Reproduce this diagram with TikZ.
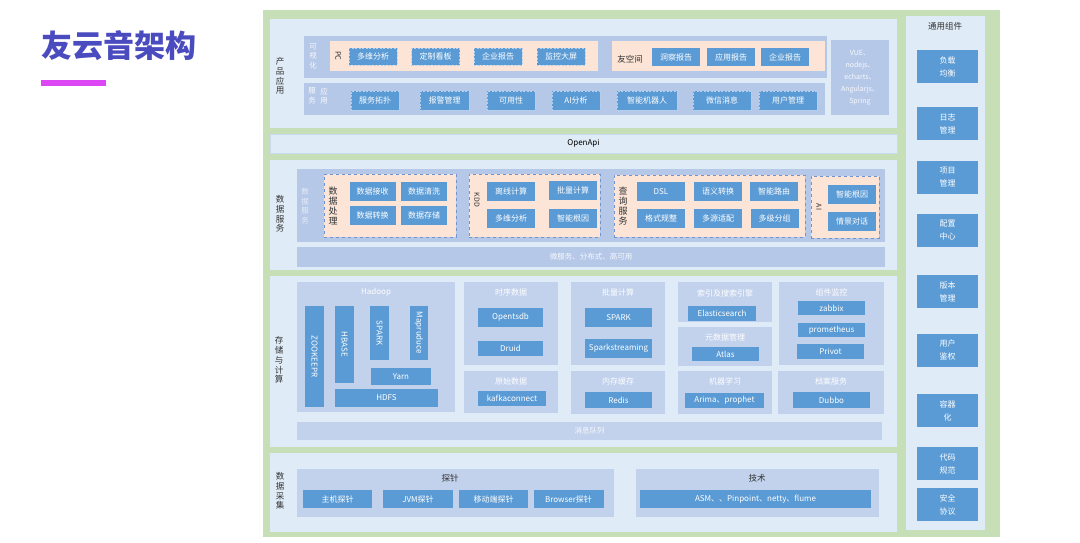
\documentclass[tikz,border=0pt]{standalone}
\usepackage{fontspec}
\setmainfont{Noto Sans CJK SC}
\usepackage{tikz}

\definecolor{bggreen}{HTML}{C6DFB6}
\definecolor{panelblue}{HTML}{DFEBF6}
\definecolor{panelline}{HTML}{C8D8EE}
\definecolor{stripblue}{HTML}{B6C8E8}
\definecolor{boxblue}{HTML}{C2D1EC}
\definecolor{peach}{HTML}{FCE4D6}
\definecolor{dashblue}{HTML}{7193CF}
\definecolor{btnblue}{HTML}{5B9BD5}
\definecolor{titlepurple}{HTML}{4B4BC0}
\definecolor{barmagenta}{HTML}{DC46F5}
\definecolor{labeltext}{HTML}{333333}

\tikzset{
  strip/.style={fill=stripblue, inner sep=0pt},
  subbox/.style={fill=boxblue, inner sep=0pt},
  peachbox/.style={fill=peach, inner sep=0pt},
  dpeach/.style={peachbox, draw=dashblue, dashed},
  btn/.style={fill=btnblue, text=white, inner sep=0pt, minimum height=18pt,
    font=\fontsize{8}{9}\selectfont},
  dbtn/.style={btn, draw=white!55!btnblue, dash pattern=on 2pt off 1.5pt},
  faint/.style={text=white!90!stripblue, inner sep=0pt, align=center,
    font=\fontsize{7.5}{9.5}\selectfont},
  vlabel/.style={text=labeltext, inner sep=0pt, align=center,
    font=\fontsize{8.5}{9.8}\selectfont},
  subtitle/.style={text=white, inner sep=0pt, font=\fontsize{8}{9}\selectfont},
}

\begin{document}
\begin{tikzpicture}[x=1pt, y=-1pt, font=\fontsize{8}{10}\selectfont]
    \useasboundingbox[fill=white] (0,0) rectangle (1080,542);
    \node[anchor=west, inner sep=0pt, text=titlepurple,
      font=\fontsize{31}{31}\selectfont\bfseries] (title) at (41,46) {友云音架构};
    \node[anchor=west, fill=barmagenta, inner sep=0pt, minimum width=65pt,
      minimum height=6pt] (titlebar) at (41,83) {};
    \node[fill=bggreen, inner sep=0pt, minimum width=737pt, minimum height=527pt]
      (frame) at (631.5,273.5) {};

    \begin{scope}[every node/.style={fill=panelblue, inner sep=0pt, minimum width=627pt}]
      \node[minimum height=109pt] (prodpanel) at (583.5,73.5) {};
      \node[minimum height=19pt, draw=panelline] (openapi) at (583.5,143.5) {OpenApi};
      \node[minimum height=110pt] (datapanel) at (583.5,215) {};
      \node[minimum height=171pt] (storepanel) at (583.5,361.5) {};
      \node[minimum height=79pt] (collectpanel) at (583.5,492.5) {};
      \node[minimum width=79pt, minimum height=514pt] (commonpanel) at (945.5,273) {};
    \end{scope}

    \begin{scope}[every node/.style={vlabel}]
      \node (prodlabel) at (280,76) {产\\品\\应\\用};
      \node (datalabel) at (280,214) {数\\据\\服\\务};
      \node (storelabel) at (279,360) {存\\储\\与\\计\\算};
      \node (collectlabel) at (280,491) {数\\据\\采\\集};
      \node (commonlabel) at (945,26) {通用组件};
    \end{scope}

    \node[strip, minimum width=523pt, minimum height=42pt] (visstrip) at (565.5,57) {};
    \node[faint] (vislabel) at (313,56) {可\\视\\化};
    \node[peachbox, minimum width=268pt, minimum height=30pt] (pcbox) at (464,56) {};
    \node[vlabel, rotate=-90, font=\fontsize{7.5}{8}\selectfont] (pclabel) at (338,56) {PC};
    \node[peachbox, minimum width=213pt, minimum height=30pt] (spacebox) at (718.5,56) {};
    \node[vlabel] (spacelabel) at (630,59) {友空间};
    \begin{scope}[every node/.style={dbtn, minimum width=48pt, minimum height=17pt}]
      \node (multidim) at (373,56.5) {多维分析};
      \node (board) at (435.5,56.5) {定制看板};
      \node (pcreport) at (498,56.5) {企业报告};
      \node (bigscreen) at (561,56.5) {监控大屏};
    \end{scope}
    \begin{scope}[every node/.style={btn, minimum width=48pt}]
      \node (insight) at (676,57) {洞察报告};
      \node (appreport) at (731,57) {应用报告};
      \node (spacereport) at (785,57) {企业报告};
    \end{scope}

    \node[strip, minimum width=521pt, minimum height=32pt] (appstrip) at (564.5,99) {};
    \node[faint] (applabela) at (324,96) {应\\用};
    \node[faint] (applabelb) at (312,96) {服\\务};
    \begin{scope}[every node/.style={dbtn, minimum height=19pt}]
      \node[minimum width=48pt] (topology) at (375,100.5) {服务拓扑};
      \node[minimum width=49pt] (alarm) at (444.5,100.5) {报警管理};
      \node[minimum width=48pt] (avail) at (511,100.5) {可用性};
      \node[minimum width=48pt] (aianalysis) at (576,100.5) {AI分析};
      \node[minimum width=60pt] (robot) at (647,100.5) {智能机器人};
      \node[minimum width=58pt] (wechat) at (722,100.5) {微信消息};
      \node[minimum width=58pt] (usermgmt) at (788,100.5) {用户管理};
    \end{scope}

    \node[strip, minimum width=58pt, minimum height=75pt, faint,
      font=\fontsize{7}{12}\selectfont] (techstack) at (860,77.5)
      {VUE、\\nodejs、\\echarts、\\Angularjs、\\Spring};

    \node[strip, minimum width=588pt, minimum height=73pt] (datastrip) at (591,205.5) {};
    \node[faint, text=white!65!stripblue] (datalabelin) at (305,206) {数\\据\\服\\务};
    \node[strip, minimum width=588pt, minimum height=20pt, faint] (msbar) at (591,257)
      {微服务、分布式、高可用};
    \node[dpeach, minimum width=132pt, minimum height=63pt] (procbox) at (390,205.5) {};
    \node[vlabel, font=\fontsize{9}{10}\selectfont] (proclabel) at (333,206) {数\\据\\处\\理};
    \node[dpeach, minimum width=131pt, minimum height=63pt] (kddbox) at (534.5,205.5) {};
    \node[vlabel, rotate=-90, font=\fontsize{7}{8}\selectfont] (kddlabel) at (477,200) {KDD};
    \node[dpeach, minimum width=191pt, minimum height=62pt] (querybox) at (709.5,206) {};
    \node[vlabel, font=\fontsize{9}{10}\selectfont] (querylabel) at (623,206) {查\\询\\服\\务};
    \node[dpeach, minimum width=68pt, minimum height=62pt] (aibox) at (845,207) {};
    \node[vlabel, rotate=-90, font=\fontsize{7}{8}\selectfont] (ailabel) at (819,207) {AI};
    \begin{scope}[every node/.style={btn, minimum width=46pt, minimum height=19pt}]
      \node (receive) at (372.5,191.5) {数据接收};
      \node (clean) at (424,191.5) {数据清洗};
      \node (convert) at (372.5,215) {数据转换};
      \node (storage) at (424,215) {数据存储};
    \end{scope}
    \begin{scope}[every node/.style={btn, minimum width=48pt, minimum height=19pt}]
      \node (offline) at (511,191.5) {离线计算};
      \node (batch) at (573,190) {批量计算};
      \node (kddmulti) at (511,218) {多维分析};
      \node (rootcause) at (573,218) {智能根因};
      \node (dsl) at (661,191.5) {DSL};
      \node (semantic) at (718,191.5) {语义转换};
      \node (routing) at (774,191.5) {智能路由};
      \node (format) at (661,218) {格式规整};
      \node (multisrc) at (718,218) {多源适配};
      \node (grouping) at (774.5,218) {多级分组};
      \node (airoot) at (852,194) {智能根因};
      \node (dialog) at (852,221) {情景对话};
    \end{scope}

    \node[subbox, minimum width=158pt, minimum height=130pt] (hadoopbox) at (376,347) {};
    \node[subtitle] (hadooplabel) at (376,292) {Hadoop};
    \begin{scope}[every node/.style={btn, rotate=-90, minimum height=19pt}]
      \node[minimum width=101pt] (zookeeper) at (314.5,356.5) {ZOOKEEPR};
      \node[minimum width=77pt] (hbase) at (344.5,344.5) {HBASE};
      \node[minimum width=54pt] (hspark) at (379.5,333) {SPARK};
      \node[minimum width=54pt, minimum height=18pt] (mapreduce) at (419,333) {Mapruduce};
    \end{scope}
    \node[btn, minimum width=60pt, minimum height=17pt] (yarn) at (401,376.5) {Yarn};
    \node[btn, minimum width=103pt] (hdfs) at (386.5,398) {HDFS};

    \begin{scope}[every node/.style={subbox, minimum width=94pt}]
      \node[minimum height=83pt] (tsbox) at (511,323.5) {};
      \node[minimum height=42pt] (rawbox) at (511,392) {};
      \node[minimum height=83pt] (batchbox) at (618,323.5) {};
      \node[minimum height=43pt] (cachebox) at (618,392.5) {};
      \node[minimum height=40pt] (searchbox) at (725,302) {};
      \node[minimum height=39pt] (metabox) at (725,346.5) {};
      \node[minimum height=43pt] (mlbox) at (725,392.5) {};
      \node[minimum width=105pt, minimum height=83pt] (monbox) at (831.5,323.5) {};
      \node[minimum width=106pt, minimum height=43pt] (archbox) at (831,392.5) {};
    \end{scope}
    \begin{scope}[every node/.style={subtitle}]
      \node (tstitle) at (511,292) {时序数据};
      \node (rawtitle) at (511,381) {原始数据};
      \node (batchtitle) at (618,292) {批量计算};
      \node (cachetitle) at (618,381) {内存缓存};
      \node (searchtitle) at (725,293) {索引及搜索引擎};
      \node (metatitle) at (725,337) {元数据管理};
      \node (mltitle) at (725,381) {机器学习};
      \node (montitle) at (831.5,292) {组件监控};
      \node (archtitle) at (831,381) {档案服务};
    \end{scope}
    \begin{scope}[every node/.style={btn, minimum width=67pt, minimum height=15pt}]
      \node[minimum width=65pt, minimum height=19pt] (opentsdb) at (510.5,317.5) {Opentsdb};
      \node[minimum width=65pt] (druid) at (510.5,348) {Druid};
      \node[minimum width=68pt] (kafka) at (512,398) {kafkaconnect};
      \node[minimum height=19pt] (spark) at (618.5,317.5) {SPARK};
      \node[minimum height=19pt] (sparkstream) at (618.5,348.5) {Sparkstreaming};
      \node[minimum height=16pt] (redis) at (618.5,400) {Redis};
      \node[minimum width=68pt] (elastic) at (722,313.5) {Elasticsearch};
      \node[minimum height=14pt] (atlas) at (725.5,354) {Atlas};
      \node[minimum width=79pt] (arima) at (724.5,400.5) {Arima、prophet};
      \node[minimum height=14pt] (zabbix) at (831.5,308) {zabbix};
      \node[minimum height=14pt] (prometheus) at (831.5,330) {prometheus};
      \node (privot) at (830.5,351.5) {Privot};
      \node[minimum width=77pt, minimum height=16pt] (dubbo) at (831.5,400) {Dubbo};
    \end{scope}
    \node[subbox, minimum width=585pt, minimum height=18pt, faint] (mqbar) at (589.5,431) {消息队列};

    \node[subbox, minimum width=317pt, minimum height=48pt] (probebox) at (455.5,493) {};
    \node[vlabel] (probetitle) at (450,478) {探针};
    \node[subbox, minimum width=243pt, minimum height=48pt] (techbox) at (757.5,493) {};
    \node[vlabel] (techtitle) at (757,478) {技术};
    \begin{scope}[every node/.style={btn, minimum width=69pt}]
      \node (hostprobe) at (337.5,499) {主机探针};
      \node[minimum width=70pt] (jvmprobe) at (418,499) {JVM探针};
      \node (mobileprobe) at (493.5,499) {移动端探针};
      \node[minimum width=70pt] (browserprobe) at (568.5,499) {Browser探针};
      \node[minimum width=231pt] (asm) at (755.5,499) {ASM、、Pinpoint、netty、flume};
    \end{scope}

    \begin{scope}[every node/.style={btn, minimum width=61pt, minimum height=33pt,
        align=center, font=\fontsize{8}{13}\selectfont}]
      \node (loadbal) at (947.5,66.5) {负载\\均衡};
      \node (logmgmt) at (947.5,123.5) {日志\\管理};
      \node (projmgmt) at (947.5,177) {项目\\管理};
      \node (config) at (947.5,230) {配置\\中心};
      \node (version) at (947.5,291.5) {版本\\管理};
      \node (auth) at (947.5,350) {用户\\鉴权};
      \node (container) at (947.5,410.5) {容器\\化};
      \node (codestd) at (947.5,463.5) {代码\\规范};
      \node (security) at (947.5,504.5) {安全\\协议};
    \end{scope}
  \end{tikzpicture}
\end{document}
